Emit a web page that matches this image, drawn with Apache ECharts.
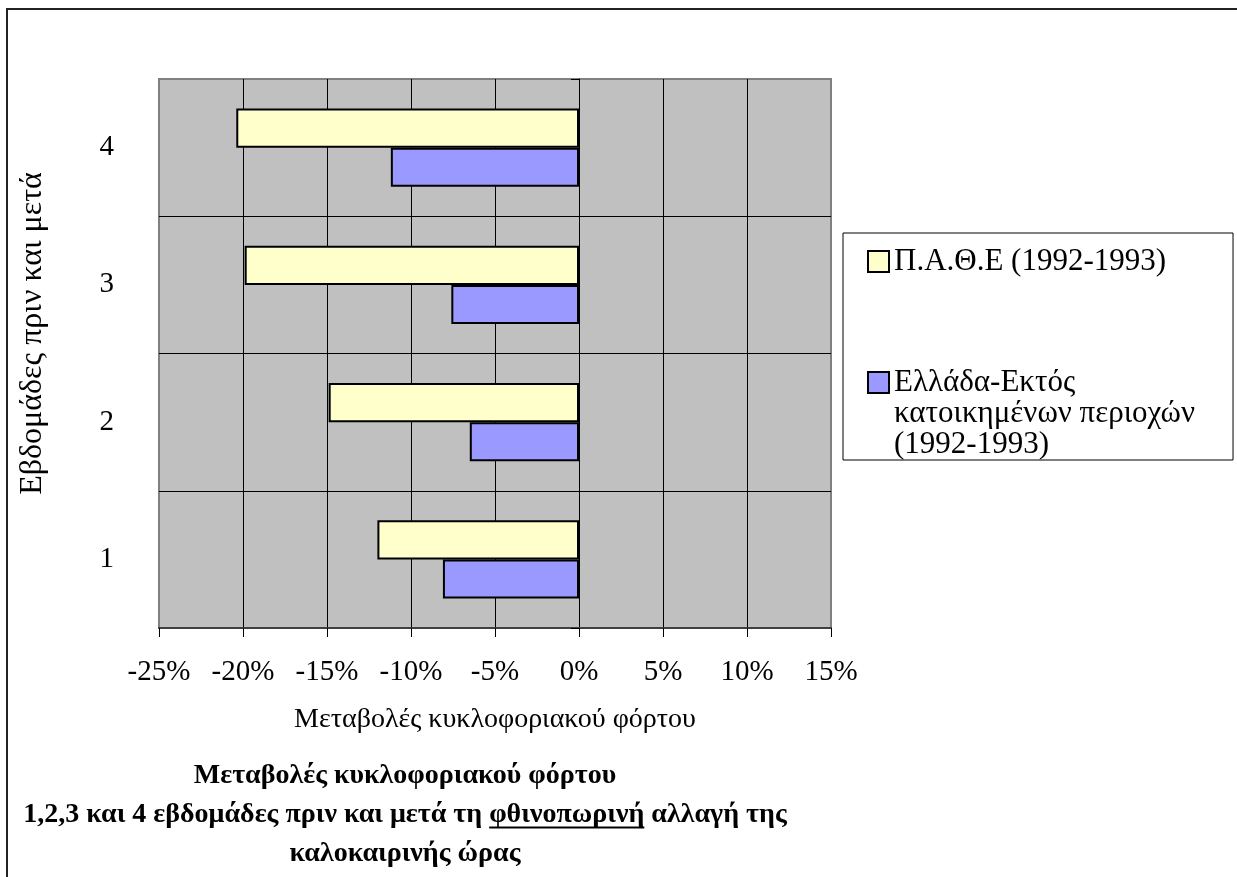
<!DOCTYPE html>
<html>
<head>
<meta charset="utf-8">
<script src="https://cdn.jsdelivr.net/npm/echarts@6/dist/echarts.min.js"></script>
<style>
  html, body { margin: 0; padding: 0; background: #fff; }
  #chart { width: 1237px; height: 877px; }
</style>
</head>
<body>
<div id="chart"></div>
<script>
const weeks = ['1', '2', '3', '4']
const patheValues = [-12.0, -14.9, -19.9, -20.4]
const greeceValues = [-8.1, -6.5, -7.6, -11.2]

const patheName = 'Π.Α.Θ.Ε (1992-1993)'
const greeceName = 'Ελλάδα-Εκτός κατοικημένων περιοχών (1992-1993)'
// two empty lines on top so the icon sits next to the first text line
const legendLabels = {
  [patheName]: 'Π.Α.Θ.Ε (1992-1993)',
  [greeceName]: '\n\nΕλλάδα-Εκτός\nκατοικημένων περιοχών\n(1992-1993)'
}

const titleLines = [
  'Μεταβολές κυκλοφοριακού φόρτου',
  '1,2,3 και 4 εβδομάδες πριν και μετά τη φθινοπωρινή αλλαγή της',
  'καλοκαιρινής ώρας'
]
const underlined = 'φθινοπωρινή'

const FONT = 'Liberation Serif, Times New Roman, serif'

// where to put the underline under the word in the title
const titleCenter = 405
const titleTop = 756
const titleSize = 28
const titleLineHeight = 39
const ctx = document.createElement('canvas').getContext('2d')
ctx.font = 'bold ' + titleSize + 'px ' + FONT
const line2 = titleLines[1]
const prefix = line2.slice(0, line2.indexOf(underlined))
const line2Left = titleCenter - ctx.measureText(line2).width / 2
const ulX = line2Left + ctx.measureText(prefix).width
const ulW = ctx.measureText(underlined).width
const ulY = titleTop + titleLineHeight * 1.5 + 13

const chart = echarts.init(document.getElementById('chart'))

chart.setOption({
  animation: false,
  textStyle: { fontFamily: FONT, color: '#000' },
  title: {
    text: titleLines.join('\n'),
    left: titleCenter,
    top: titleTop,
    padding: 0,
    textAlign: 'center',
    textStyle: { fontFamily: FONT, fontSize: titleSize, fontWeight: 'bold', lineHeight: titleLineHeight, color: '#000' }
  },
  graphic: [
    {
      type: 'rect',
      silent: true,
      z: -1,
      shape: { x: 7, y: 9, width: 1240, height: 900 },
      style: { fill: 'none', stroke: '#222', lineWidth: 2 }
    },
    {
      type: 'line',
      silent: true,
      shape: { x1: ulX, y1: ulY, x2: ulX + ulW, y2: ulY },
      style: { stroke: '#000', lineWidth: 2 }
    }
  ],
  legend: {
    orient: 'vertical',
    left: 843,
    top: 233,
    padding: [13, 38, 0, 24],
    itemGap: 28,
    itemWidth: 21,
    itemHeight: 21,
    icon: 'rect',
    backgroundColor: '#fff',
    borderColor: '#000',
    borderWidth: 1,
    borderRadius: 0,
    selectedMode: false,
    textStyle: { fontFamily: FONT, fontSize: 31, lineHeight: 31, color: '#000' },
    formatter: (name) => legendLabels[name],
    data: [patheName, greeceName]
  },
  grid: {
    left: 159,
    top: 79,
    right: 406,
    bottom: 249,
    show: true,
    backgroundColor: '#c0c0c0',
    borderColor: '#808080',
    borderWidth: 2
  },
  xAxis: {
    type: 'value',
    min: -25,
    max: 15,
    interval: 5,
    name: 'Μεταβολές κυκλοφοριακού φόρτου',
    nameLocation: 'middle',
    nameGap: 78,
    nameTextStyle: { fontFamily: FONT, fontSize: 28, color: '#000' },
    axisLine: { show: true, lineStyle: { color: '#404040', width: 2 } },
    axisTick: { show: true, length: 9, lineStyle: { color: '#000', width: 1 } },
    axisLabel: { formatter: '{value}%', fontFamily: FONT, fontSize: 29, color: '#000', margin: 30 },
    splitLine: { show: true, showMinLine: false, showMaxLine: false, lineStyle: { color: '#000', width: 1 } }
  },
  yAxis: [
    {
      type: 'category',
      data: weeks,
      name: 'Εβδομάδες πριν και μετά',
      nameLocation: 'middle',
      nameGap: 110,
      nameTextStyle: { fontFamily: FONT, fontSize: 32, color: '#000', padding: [0, 0, 0, 40] },
      axisLine: { show: false },
      axisTick: { show: false },
      axisLabel: { fontFamily: FONT, fontSize: 29, color: '#000', margin: 45 },
      splitLine: { show: true, showMinLine: false, showMaxLine: false, lineStyle: { color: '#000', width: 1 } }
    },
    {
      // the category axis line itself crosses at 0%
      type: 'category',
      data: weeks,
      position: 'left',
      offset: -420,
      axisLine: { show: true, lineStyle: { color: '#000', width: 1 } },
      axisTick: { show: true, length: 8, lineStyle: { color: '#000', width: 1 } },
      axisLabel: { show: false },
      splitLine: { show: false }
    }
  ],
  series: [
    {
      name: patheName,
      type: 'bar',
      data: patheValues,
      barGap: '0%',
      barCategoryGap: '43%',
      itemStyle: { color: '#ffffcc', borderColor: '#000', borderWidth: 2 }
    },
    {
      name: greeceName,
      type: 'bar',
      data: greeceValues,
      barGap: '0%',
      barCategoryGap: '43%',
      itemStyle: { color: '#9999ff', borderColor: '#000', borderWidth: 2 }
    }
  ]
})
</script>
</body>
</html>
